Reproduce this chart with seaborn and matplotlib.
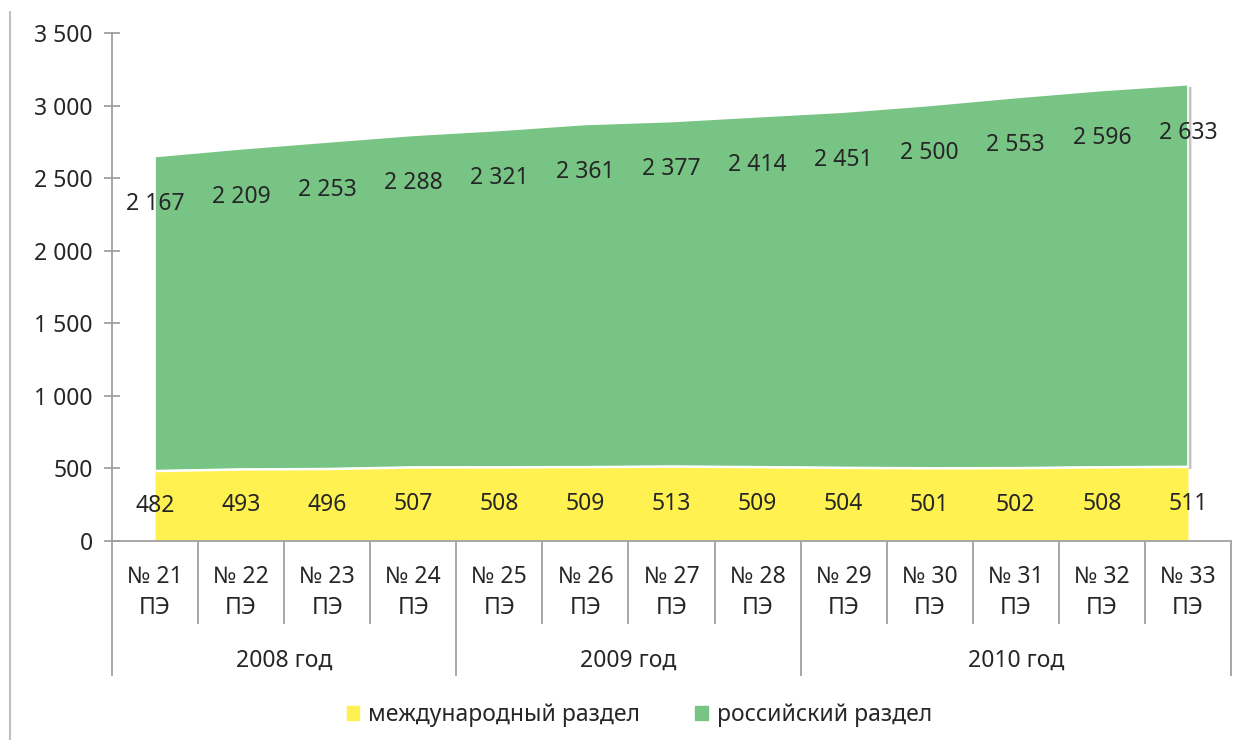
import matplotlib
matplotlib.use('Agg')
import matplotlib.pyplot as plt
import matplotlib.patheffects as pe
from matplotlib.patches import Patch
from matplotlib.lines import Line2D
from matplotlib.ticker import FuncFormatter
import seaborn as sns
import pandas as pd

# Data
issues = ['№ 21\nПЭ', '№ 22\nПЭ', '№ 23\nПЭ', '№ 24\nПЭ', '№ 25\nПЭ', '№ 26\nПЭ', '№ 27\nПЭ',
          '№ 28\nПЭ', '№ 29\nПЭ', '№ 30\nПЭ', '№ 31\nПЭ', '№ 32\nПЭ', '№ 33\nПЭ']
years = ['2008 год', '2009 год', '2010 год']
year_sizes = [4, 4, 5]
intl = [482, 493, 496, 507, 508, 509, 513, 509, 504, 501, 502, 508, 511]
russ = [2167, 2209, 2253, 2288, 2321, 2361, 2377, 2414, 2451, 2500, 2553, 2596, 2633]
series_names = ['международный раздел', 'российский раздел']

YELLOW = '#FFF250'
GREEN = '#77C485'
GRAY = '#A0A0A0'
TEXT = '#262626'


def thousands(v, pos=None):
    return f'{int(v):,}'.replace(',', ' ')


def main():
    sns.set_theme(style='white')
    plt.rcParams['font.family'] = ['Noto Sans', 'DejaVu Sans']
    fs = 16.5

    df = pd.DataFrame({'issue': issues, 'intl': intl, 'russ': russ})
    df['x'] = range(len(df))
    df['total'] = df['intl'] + df['russ']

    fig = plt.figure(figsize=(12.49, 7.40), dpi=100)
    ax = fig.add_axes([112 / 1249, 1 - 541 / 740, (1231 - 112) / 1249, (541 - 33) / 740])

    shadow = [pe.SimplePatchShadow(offset=(2.5, -1.5), shadow_rgbFace='#555555', alpha=0.35), pe.Normal()]
    ax.fill_between(df['x'], 0, df['intl'], color=YELLOW, lw=0, zorder=2)
    green = ax.fill_between(df['x'], df['intl'], df['total'], color=GREEN, edgecolor='white',
                            lw=1.2, zorder=1)
    green.set_path_effects(shadow)
    sns.lineplot(x=df['x'], y=df['intl'], color='white', lw=1.8, ax=ax, zorder=3, legend=False)
    ax.set_xlabel('')
    ax.set_ylabel('')

    # data labels
    for _, r in df.iterrows():
        ax.text(r['x'], r['intl'] / 2, thousands(r['intl']), ha='center', va='center',
                fontsize=fs, color=TEXT, zorder=5)
        ax.text(r['x'], r['total'] - 330, thousands(r['russ']), ha='center', va='center',
                fontsize=fs, color=TEXT, zorder=5)

    ax.set_xlim(-0.5, len(issues) - 0.5)
    ax.set_ylim(0, 3500)
    ax.set_yticks(range(0, 3501, 500))
    ax.yaxis.set_major_formatter(FuncFormatter(thousands))
    ax.tick_params(axis='y', direction='inout', length=12, width=1.3, color=GRAY,
                   labelsize=fs, labelcolor=TEXT, pad=8, left=True)

    # x-axis separators: group boundaries long, inner boundaries short
    bounds = [-0.5]
    for s in year_sizes:
        bounds.append(bounds[-1] + s)
    inner = [b + 0.5 for b in range(len(issues) - 1) if (b + 0.5) not in bounds]
    ax.set_xticks(bounds)
    ax.set_xticks(inner, minor=True)
    ax.set_xticklabels([])
    ax.tick_params(axis='x', which='major', direction='out', length=97, width=1.3, color=GRAY, bottom=True)
    ax.tick_params(axis='x', which='minor', direction='out', length=60, width=1.3, color=GRAY, bottom=True)

    for i, lab in enumerate(issues):
        ax.annotate(lab, xy=(i, 0), xycoords=('data', 'axes fraction'), xytext=(0, -37),
                    textcoords='offset points', ha='center', va='center', fontsize=fs,
                    color=TEXT, linespacing=1.35)
    for k, lab in enumerate(years):
        mid = (bounds[k] + bounds[k + 1]) / 2
        ax.annotate(lab, xy=(mid, 0), xycoords=('data', 'axes fraction'), xytext=(0, -86),
                    textcoords='offset points', ha='center', va='center', fontsize=fs, color=TEXT)

    for side in ['top', 'right']:
        ax.spines[side].set_visible(False)
    for side in ['left', 'bottom']:
        ax.spines[side].set_color(GRAY)
        ax.spines[side].set_linewidth(1.3)

    # outer chart frame line on the left
    fig.add_artist(Line2D([10 / 1249, 10 / 1249], [0, 1 - 12 / 740], color='#BFBFBF', lw=1.5))

    handles = [Patch(color=YELLOW), Patch(color=GREEN)]
    fig.legend(handles, series_names, loc='center', bbox_to_anchor=(0.512, 1 - 715 / 740),
               ncol=2, frameon=False, fontsize=fs, handlelength=0.55, handleheight=0.55,
               handletextpad=0.4, columnspacing=2.4, labelcolor=TEXT)

    fig.savefig('out.png', dpi=100)


if __name__ == '__main__':
    main()
